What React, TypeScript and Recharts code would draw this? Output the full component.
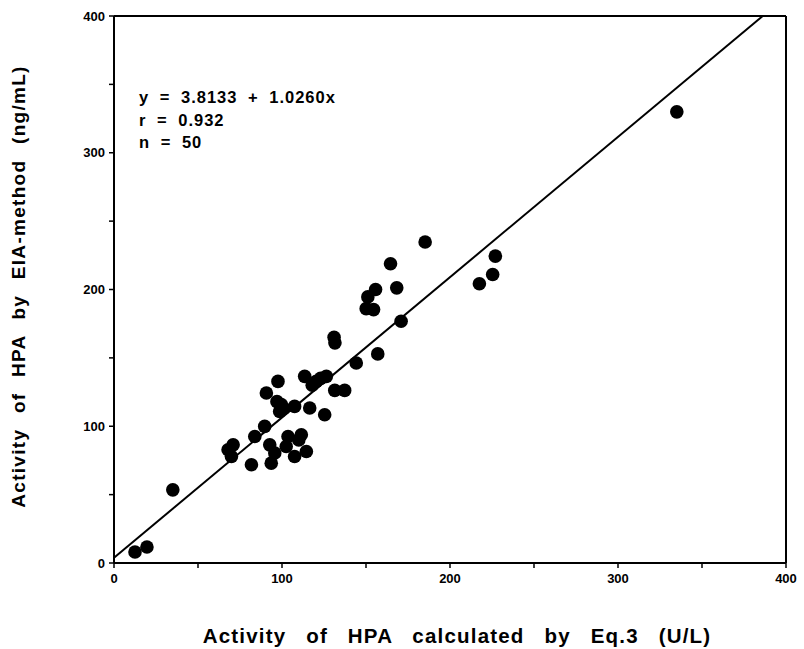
import { ScatterChart, Scatter, XAxis, YAxis, ReferenceLine, Label } from 'recharts';

// HPA activity: calculated (Eq.3, U/L) vs EIA-method (ng/mL)
const calcActivity = [
  12.5, 19.6, 35, 67.9, 69.9, 70.9, 81.8, 83.8, 89.7, 90.7,
  97.6, 92.7, 95.7, 93.6, 99.6, 98.6, 107.5, 103.6, 111.5, 102.5,
  107.5, 114.5, 116.5, 125.4, 113.5, 120.4, 126.4, 131.4, 137.3, 131,
  131.5, 144.2, 157, 150.1, 154.5, 151.1, 155.7, 168.3, 164.6, 170.9,
  185.2, 217.5, 225.4, 227, 335, 101, 118, 97, 110, 123,
];
const eiaActivity = [
  8, 11.7, 53.5, 82.8, 77.9, 86.4, 71.8, 92.5, 99.9, 124.3,
  132.8, 86.4, 80.4, 73, 115.8, 110.8, 114.5, 92.5, 93.8, 85.2,
  77.9, 81.5, 113.3, 108.4, 136.5, 132.8, 136.5, 126.2, 126.2, 165,
  161, 146.3, 152.9, 186, 185.3, 194.6, 200, 201.2, 218.8, 176.8,
  234.7, 204.2, 211, 224.4, 329.9, 113, 130, 118, 90, 135,
];
const axisTicks = [0, 50, 100, 150, 200, 250, 300, 350, 400];

// regression y = 3.8133 + 1.0260x
const intercept = 3.8133;
const slope = 1.026;
const fitEndX = (400 - intercept) / slope;

const points = calcActivity.map((x, i) => ({ x, y: eiaActivity[i] }));

const font = '"Liberation Sans", Arial, sans-serif';
const tickStyle = { fontSize: 13, fontWeight: 700, fill: '#000', fontFamily: font };
const labelFmt = (v: number) => (v % 100 === 0 ? String(v) : '');
const xTitleStyle = { fontSize: 20.5, fontWeight: 700, fontFamily: font, letterSpacing: 1.2, wordSpacing: 13 };
const yTitleStyle = { fontSize: 19, fontWeight: 700, fontFamily: font, letterSpacing: 1.3, wordSpacing: 9 };

const Dot = (props: any) => <circle cx={props.cx} cy={props.cy} r={6.8} fill="#000" />;

const XTitle = (props: any) => {
  const vb = props.viewBox;
  return (
    <text x={vb.x + vb.width / 2 + 7} y={vb.y + 80} textAnchor="middle" fill="#000" style={xTitleStyle}>
      Activity of HPA calculated by Eq.3 (U/L)
    </text>
  );
};

const YTitle = (props: any) => {
  const vb = props.viewBox;
  const cx = 25;
  const cy = vb.y + vb.height / 2 - 3;
  return (
    <text
      x={cx}
      y={cy}
      textAnchor="middle"
      fill="#000"
      transform={`rotate(-90 ${cx} ${cy})`}
      style={yTitleStyle}
    >
      Activity of HPA by EIA-method (ng/mL)
    </text>
  );
};

export default function App() {
  return (
    <div style={{ position: 'absolute', left: 0, top: 0, width: 804, height: 649, background: '#fff' }}>
      <ScatterChart width={804} height={649} margin={{ top: 16, right: 18, bottom: 56, left: 54 }}>
        <XAxis
          type="number"
          dataKey="x"
          domain={[0, 400]}
          ticks={axisTicks}
          tickFormatter={labelFmt}
          tick={tickStyle}
          tickSize={5}
          tickMargin={6}
          height={30}
          axisLine={{ stroke: '#000', strokeWidth: 2 }}
          tickLine={{ stroke: '#000', strokeWidth: 1.5 }}
          interval={0}
        >
          <Label content={XTitle} />
        </XAxis>
        <YAxis
          type="number"
          dataKey="y"
          domain={[0, 400]}
          ticks={axisTicks}
          tickFormatter={labelFmt}
          tick={tickStyle}
          tickSize={5}
          tickMargin={4}
          width={60}
          axisLine={{ stroke: '#000', strokeWidth: 2 }}
          tickLine={{ stroke: '#000', strokeWidth: 1.5 }}
          interval={0}
        >
          <Label content={YTitle} />
        </YAxis>
        <ReferenceLine y={400} stroke="#000" strokeWidth={2} />
        <ReferenceLine x={400} stroke="#000" strokeWidth={2} />
        <ReferenceLine
          segment={[{ x: 0, y: intercept }, { x: fitEndX, y: 400 }]}
          stroke="#000"
          strokeWidth={2}
        />
        <Scatter data={points} shape={Dot} isAnimationActive={false} />
      </ScatterChart>
      <div
        style={{
          position: 'absolute',
          left: 139,
          top: 86,
          fontFamily: font,
          fontWeight: 700,
          fontSize: 16.5,
          letterSpacing: 1,
          wordSpacing: 5,
          lineHeight: '22.5px',
          whiteSpace: 'pre',
        }}
      >
        <div>y = 3.8133 + 1.0260x</div>
        <div>r = 0.932</div>
        <div>n = 50</div>
      </div>
    </div>
  );
}
